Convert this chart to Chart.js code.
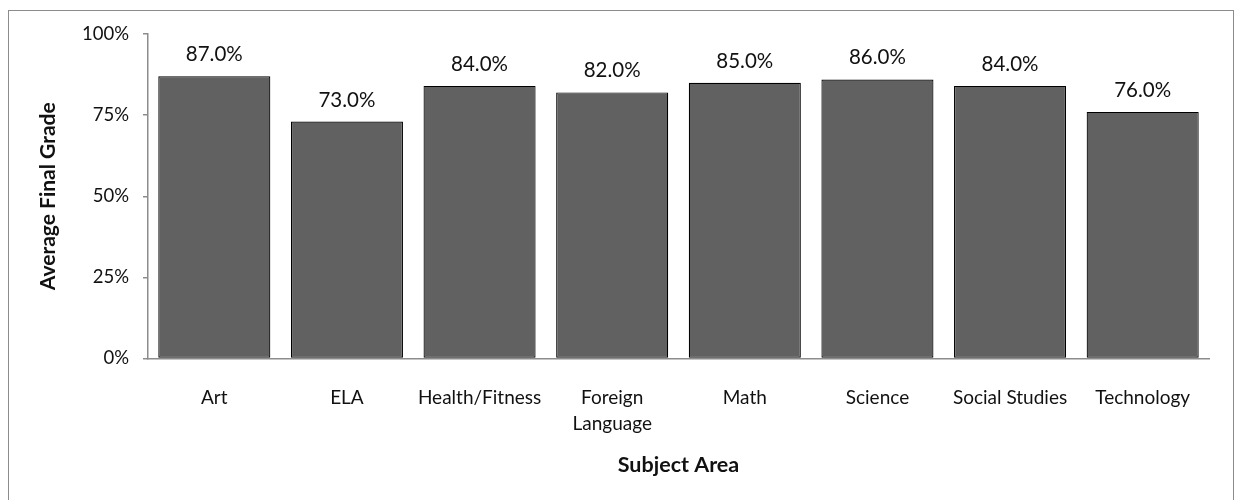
<!DOCTYPE html>
<html lang="en">
<head>
  <meta charset="UTF-8" />
  <title>Average Final Grade by Subject Area</title>
  <script src="https://cdn.jsdelivr.net/npm/chart.js"></script>
  <style>
    body { margin: 0; background: #fff; }
    #wrap { width: 1236px; height: 500px; position: relative; }
  </style>
</head>
<body>
  <div id="wrap"><canvas id="gradeChart" width="1236" height="500"></canvas></div>
  <script>
    const subjects = ['Art', 'ELA', 'Health/Fitness', ['Foreign', 'Language'], 'Math', 'Science', 'Social Studies', 'Technology'];
    const avgGrades = [0.87, 0.73, 0.84, 0.82, 0.85, 0.86, 0.84, 0.76];
    const yTicks = [0, 0.25, 0.5, 0.75, 1];

    const FONT = 'Lato, "Open Sans", sans-serif';

    // outer frame around the whole chart
    const frame = {
      id: 'frame',
      beforeDraw(chart) {
        const c = chart.ctx;
        c.save();
        c.strokeStyle = '#8c8c8c';
        c.lineWidth = 1;
        c.strokeRect(8.5, 10.5, 1225, 495);
        c.restore();
      }
    };

    // percentage labels above each bar
    const valueLabels = {
      id: 'valueLabels',
      afterDatasetsDraw(chart) {
        const c = chart.ctx;
        const meta = chart.getDatasetMeta(0);
        c.save();
        c.font = '20.5px ' + FONT;
        c.fillStyle = '#111';
        c.textAlign = 'center';
        c.textBaseline = 'alphabetic';
        meta.data.forEach((bar, i) => {
          c.fillText((avgGrades[i] * 100).toFixed(1) + '%', bar.x, bar.y - 15);
        });
        c.restore();
      }
    };

    new Chart(document.getElementById('gradeChart'), {
      type: 'bar',
      data: {
        labels: subjects,
        datasets: [{
          data: avgGrades,
          backgroundColor: '#616161',
          borderColor: '#000',
          borderWidth: 1.2,
          borderSkipped: false,
          categoryPercentage: 1,
          barPercentage: 0.845
        }]
      },
      options: {
        responsive: false,
        animation: false,
        layout: { padding: { left: 0, top: 34, right: 27, bottom: 0 } },
        plugins: { legend: { display: false }, tooltip: { enabled: false } },
        scales: {
          x: {
            grid: { display: false, drawTicks: false },
            border: { color: '#8c8c8c', width: 1.5 },
            ticks: { color: '#111', font: { family: FONT, size: 19, lineHeight: 1.35 }, padding: 27, maxRotation: 0, autoSkip: false },
            title: {
              display: true,
              text: 'Subject Area',
              color: '#111',
              font: { family: FONT, size: 21.5, weight: 'bold' },
              padding: { top: 0, bottom: 22 }
            },
            afterFit(scale) { scale.height = 141.5; }
          },
          y: {
            min: 0,
            max: 1,
            afterBuildTicks(scale) { scale.ticks = yTicks.map(v => ({ value: v })); },
            grid: { drawOnChartArea: false, drawTicks: true, tickLength: 5, color: '#8c8c8c', lineWidth: 1.5 },
            border: { color: '#8c8c8c', width: 1.5 },
            ticks: {
              color: '#111',
              font: { family: FONT, size: 18.5 },
              padding: 14,
              callback: v => Math.round(v * 100) + '%'
            },
            title: {
              display: true,
              text: 'Average Final Grade',
              color: '#111',
              font: { family: FONT, size: 21, weight: 'bold' },
              padding: { top: 36, bottom: 0 }
            },
            afterFit(scale) { scale.width = 148; }
          }
        }
      },
      plugins: [frame, valueLabels]
    });
  </script>
</body>
</html>
